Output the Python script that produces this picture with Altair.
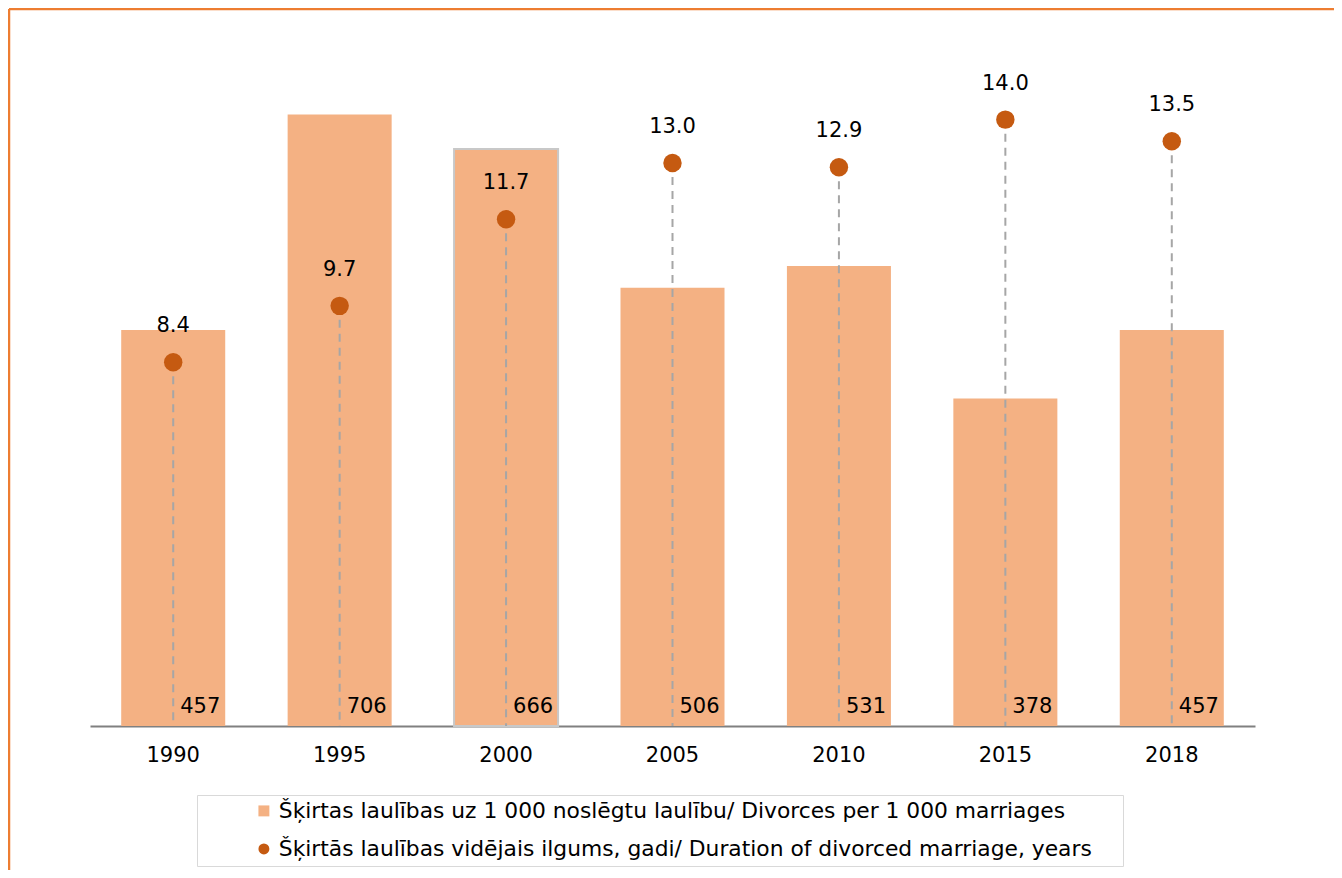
import altair as alt
import pandas as pd

years = ["1990", "1995", "2000", "2005", "2010", "2015", "2018"]
divorces = [457, 706, 666, 506, 531, 378, 457]
duration = [8.4, 9.7, 11.7, 13.0, 12.9, 14.0, 13.5]
series_names = [
    "Šķirtas laulības uz 1 000 noslēgtu laulību/ Divorces per 1 000 marriages",
    "Šķirtās laulības vidējais ilgums, gadi/ Duration of divorced marriage, years",
]
colors = ["#F4B183", "#C55A11"]
shapes = ["square", "circle"]

df = pd.DataFrame({
    "year": years,
    "divorces": divorces,
    "duration": duration,
    "s_bar": series_names[0],
    "s_dot": series_names[1],
})

FONT = "DejaVu Sans"

x = alt.X(
    "year:N", sort=years,
    scale=alt.Scale(paddingInner=0.375, paddingOuter=0.1875),
    axis=alt.Axis(title=None, labelAngle=0, ticks=False, grid=False,
                  domainColor="#808080", domainWidth=2,
                  labelFontSize=21, labelFont=FONT, labelColor="#000000",
                  labelPadding=18),
)

legend = alt.Legend(
    title=" ", titleOrient="right", titlePadding=26,
    orient="none", legendX=107, legendY=762, direction="vertical",
    strokeColor="#d9d9d9", padding=5, symbolOffset=51,
    labelFontSize=21.8, labelFont=FONT, labelColor="#000000", labelLimit=2000,
    symbolSize=120, rowPadding=15, symbolStrokeWidth=0,
)
color_scale = alt.Scale(domain=series_names, range=colors)
shape_scale = alt.Scale(domain=series_names, range=shapes)

y1 = alt.Scale(domain=[0, 800], nice=False, zero=True)
y2 = alt.Scale(domain=[0, 16], nice=False, zero=True)

base = alt.Chart(df)

bars = base.mark_bar(stroke="#c8c8c8").encode(
    x=x,
    y=alt.Y("divorces:Q", scale=y1, axis=None),
    color=alt.Color("s_bar:N", scale=color_scale, legend=legend),
    strokeWidth=alt.condition(alt.datum.year == "2000", alt.value(2), alt.value(0)),
)
bar_text = base.mark_text(align="left", baseline="alphabetic", dx=7, dy=-13,
                          fontSize=21, font=FONT, color="#000000").encode(
    x=x,
    y=alt.datum(0, scale=y1, axis=None),
    text=alt.Text("divorces:Q"),
)
bar_layer = alt.layer(bars, bar_text)

rules = base.mark_rule(strokeDash=[8, 6], color="#a6a6a6", strokeWidth=2).encode(
    x=x,
    y=alt.Y("duration:Q", scale=y2, axis=None),
    y2=alt.datum(0),
)
points = base.mark_point(size=340, opacity=1, filled=True).encode(
    x=x,
    y=alt.Y("duration:Q", scale=y2, axis=None),
    color=alt.Color("s_dot:N", scale=color_scale, legend=legend),
    shape=alt.Shape("s_dot:N", scale=shape_scale, legend=legend),
)
dur_text = base.mark_text(align="center", baseline="alphabetic", dy=-30,
                          fontSize=21, font=FONT, color="#000000").encode(
    x=x,
    y=alt.Y("duration:Q", scale=y2, axis=None),
    text=alt.Text("duration:Q", format=".1f"),
)
dur_layer = alt.layer(rules, points, dur_text)

frame_data = alt.Data(values=[{"k": 1}])
frame_top = alt.Chart(frame_data).mark_rule(color="#ED7D31", strokeWidth=2.5).encode(
    x=alt.value(-81), x2=alt.value(1244), y=alt.value(-24))
frame_left = alt.Chart(frame_data).mark_rule(color="#ED7D31", strokeWidth=2.5).encode(
    x=alt.value(-81), y=alt.value(-24), y2=alt.value(837))

chart = alt.layer(bar_layer, dur_layer, frame_top, frame_left).resolve_scale(
    y="independent"
).properties(
    width=1165, height=693,
    autosize=alt.AutoSizeParams(type="none"),
    padding={"left": 82, "top": 25, "right": 79, "bottom": 144},
    background="white",
).configure_view(stroke=None)

chart.save("out.html", embed_options={"renderer": "svg", "actions": False})
